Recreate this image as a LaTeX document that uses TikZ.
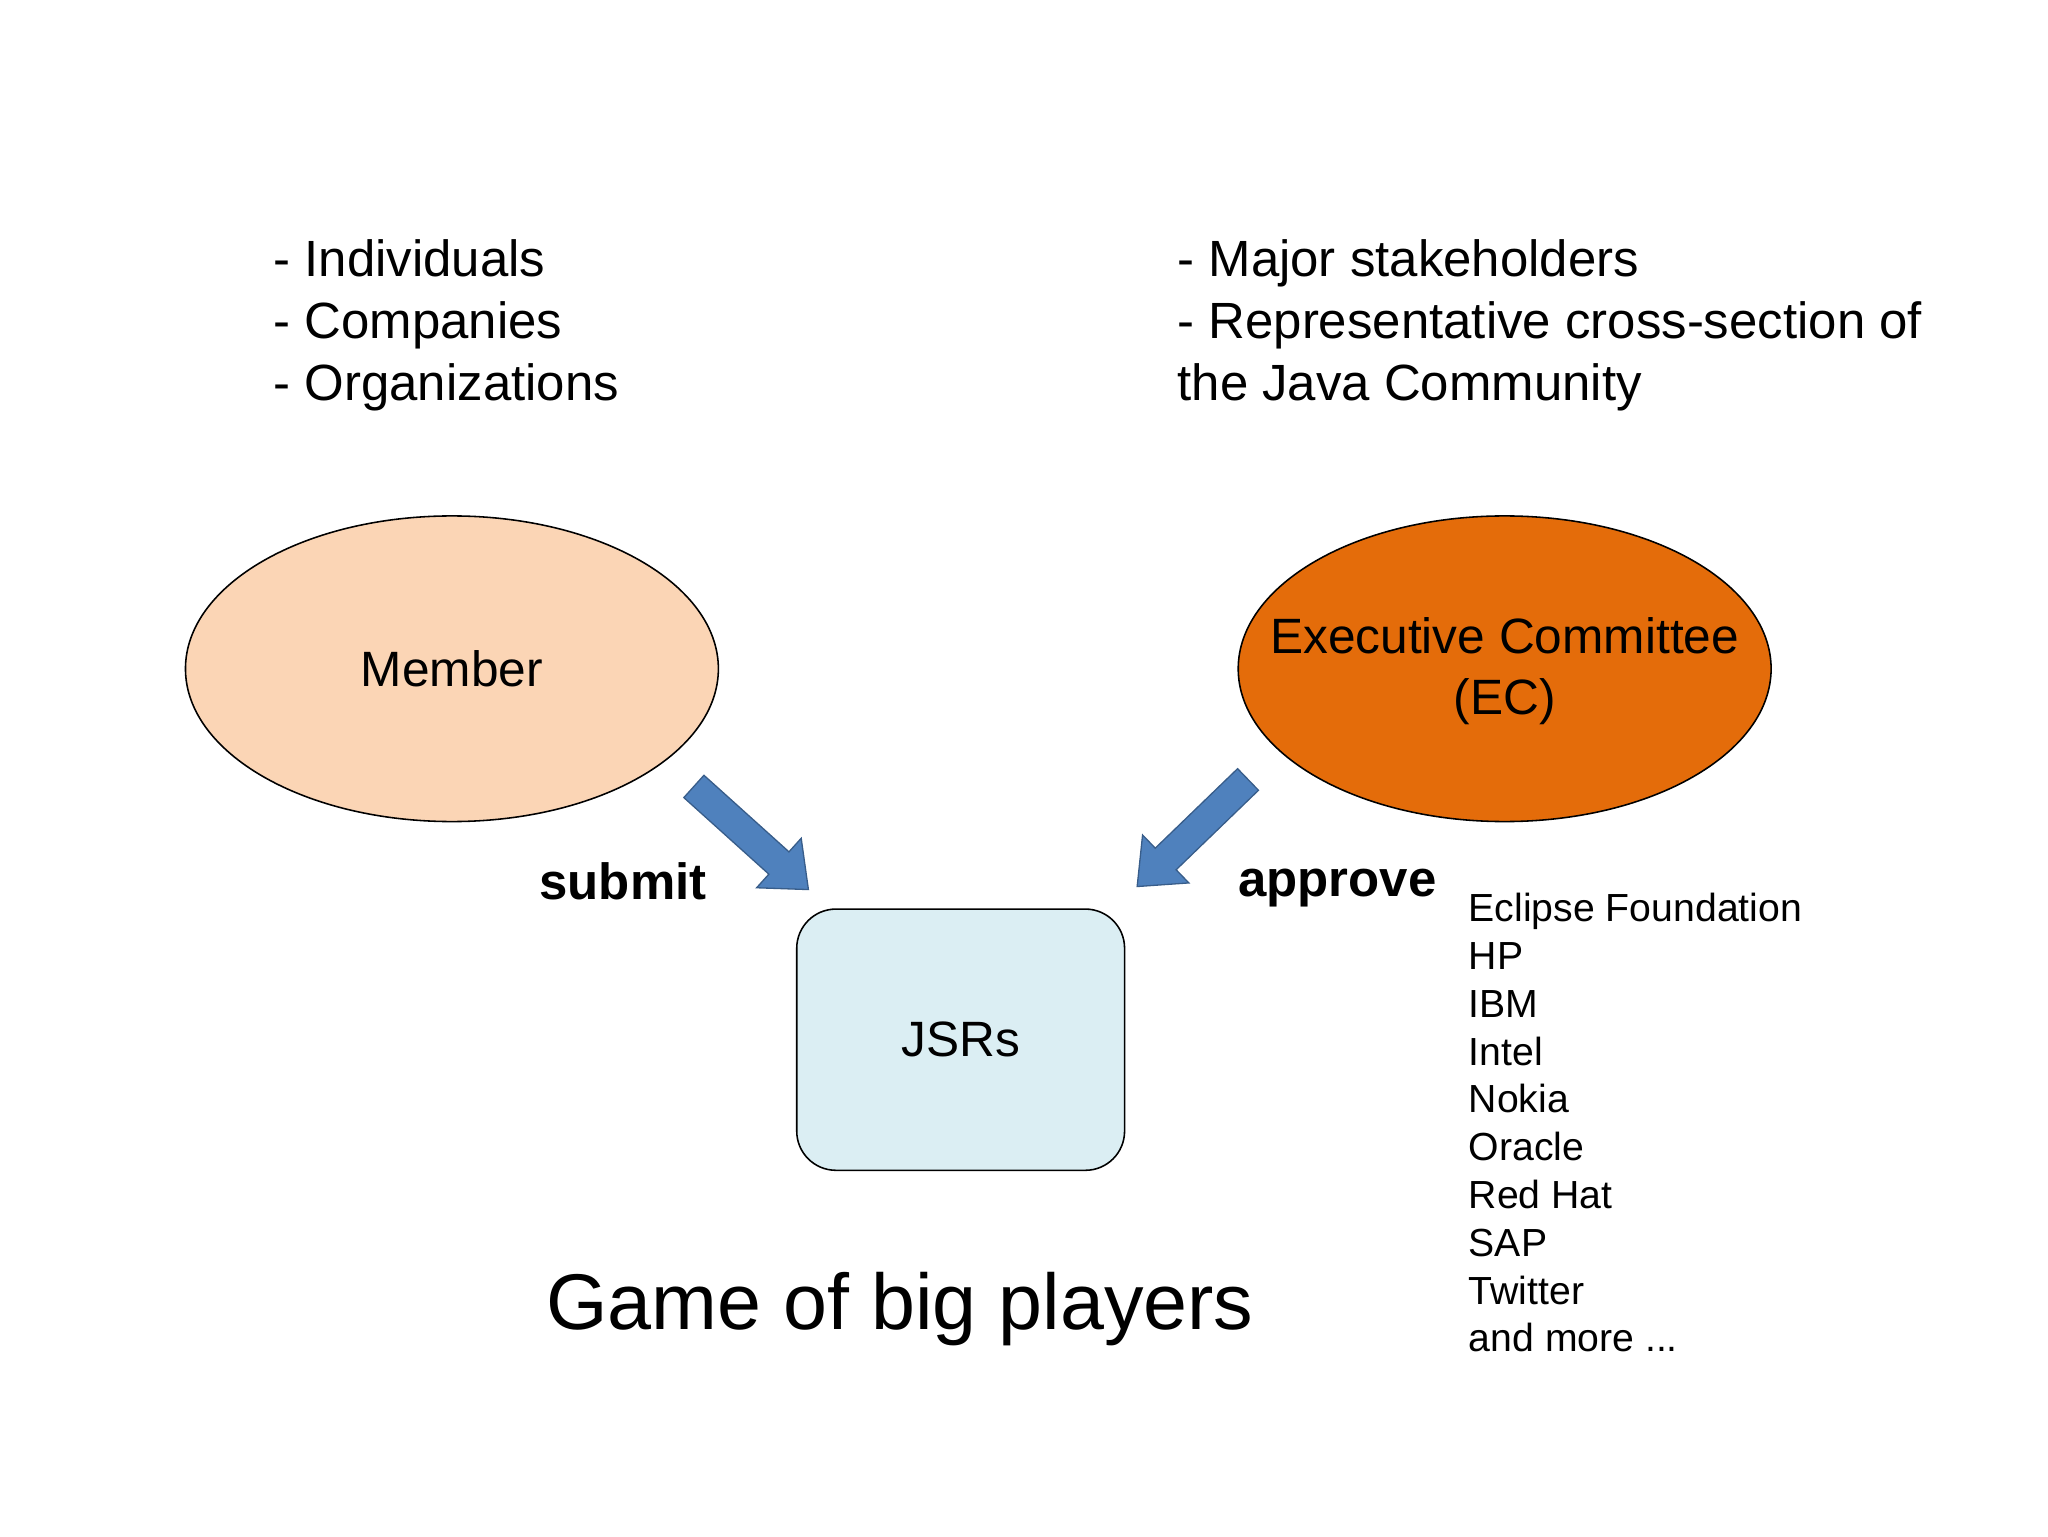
\documentclass[tikz,border=0pt]{standalone}
\usepackage{fontspec}
\setmainfont{Liberation Sans}
\usetikzlibrary{shapes.arrows,shapes.geometric}
\definecolor{peach}{HTML}{FBD5B5}
\definecolor{ecor}{HTML}{E46C0A}
\definecolor{jsr}{HTML}{DBEEF3}
\definecolor{arr}{HTML}{4F81BD}
\definecolor{arrd}{HTML}{385D8A}
\begin{document}
\begin{tikzpicture}[x=1pt,y=-1pt,
  ell/.style={draw=black,line width=1.2pt,ellipse,minimum width=408pt,minimum height=234pt,inner sep=0pt},
  etxt/.style={align=center,font=\fontsize{38}{47}\selectfont},
  blk/.style={single arrow,draw=arrd,fill=arr,line width=1pt,minimum height=118pt,inner xsep=0pt,inner ysep=11pt,single arrow head extend=14pt,single arrow tip angle=80},
  lst/.style={anchor=base west,align=left,font=\fontsize{39}{47.5}\selectfont},
  small/.style={anchor=base west,align=left,font=\fontsize{30}{36.6}\selectfont},
  lab/.style={anchor=base,font=\bfseries\fontsize{39}{44}\selectfont}]
\useasboundingbox (0,0) rectangle (1568,1176);
\node[ell,fill=peach] (mem) at (346,512) {};
\node[etxt] (memt) at (mem) {Member};
\node[ell,fill=ecor] (ec) at (1152,512) {};
\node[etxt] (ect) at (1152,514) {Executive Committee\\(EC)};
\node[draw=black,line width=1.2pt,fill=jsr,rounded corners=30pt,minimum width=251pt,minimum height=200pt,font=\fontsize{38}{44}\selectfont] (jsr) at (735.5,796) {JSRs};
\node[blk,rotate=-42] (a1) at (570,637) {};
\node[blk,rotate=224] (a2) at (918,633) {};
\node[lab] (sub) at (477,689) {submit};
\node[lab] (app) at (1024,686) {approve};
\node[lst] (l1) at (206,307) {- Individuals\\- Companies\\- Organizations};
\node[lst] (l2) at (898,307) {- Major stakeholders\\- Representative cross-section of\\the Java Community};
\node[small] (l3) at (1121,1035) {Eclipse Foundation\\HP\\IBM\\Intel\\Nokia\\Oracle\\Red Hat\\SAP\\Twitter\\and more ...};
\node[anchor=base,font=\fontsize{60.5}{66}\selectfont] (t) at (689,1018) {Game of big players};
\end{tikzpicture}
\end{document}
